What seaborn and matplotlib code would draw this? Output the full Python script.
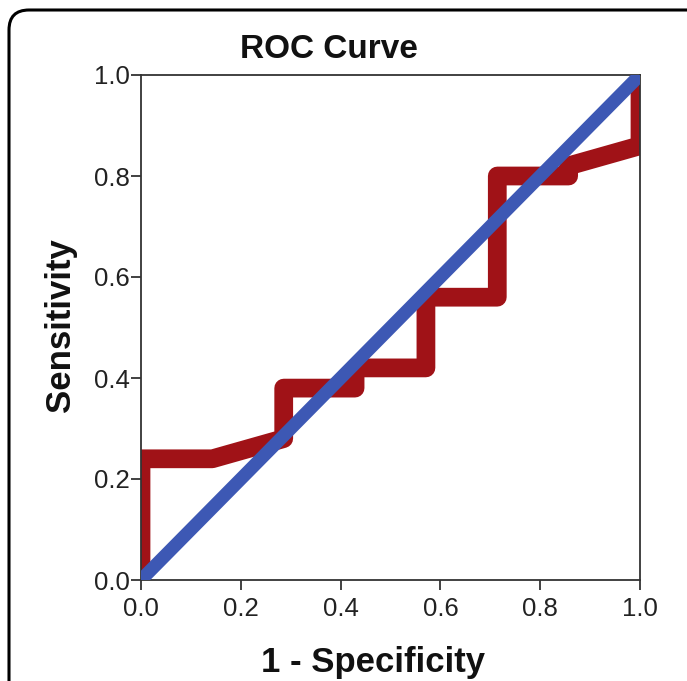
import matplotlib
matplotlib.use('Agg')
import matplotlib.pyplot as plt
import seaborn as sns
from matplotlib.patches import FancyBboxPatch

# ROC curve points (1 - specificity, sensitivity)
fpr = [0.0, 0.0, 0.143, 0.286, 0.286, 0.429, 0.429, 0.571, 0.571, 0.714, 0.714, 0.857, 0.857, 1.0, 1.0]
tpr = [0.0, 0.24, 0.24, 0.28, 0.38, 0.38, 0.42, 0.42, 0.56, 0.56, 0.80, 0.80, 0.82, 0.86, 1.0]

# reference diagonal
ref_x = [0.0, 1.0]
ref_y = [0.0, 1.0]

ticks = [0.0, 0.2, 0.4, 0.6, 0.8, 1.0]
tick_labels = ['0.0', '0.2', '0.4', '0.6', '0.8', '1.0']

sns.set_style('white')
plt.rcParams['font.family'] = ['Liberation Sans', 'DejaVu Sans']

fig = plt.figure(figsize=(6.87, 6.81), dpi=100)
ax = fig.add_axes([141 / 687, 1 - 580 / 681, 499 / 687, 505 / 681])

sns.lineplot(x=fpr, y=tpr, sort=False, estimator=None, ax=ax,
             color='#a01217', linewidth=13.5, solid_joinstyle='round', zorder=2)
sns.lineplot(x=ref_x, y=ref_y, sort=False, estimator=None, ax=ax,
             color='#3d58b4', linewidth=9.5, zorder=3)

ax.set_xlim(0, 1)
ax.set_ylim(0, 1)
ax.set_xticks(ticks)
ax.set_yticks(ticks)
ax.set_xticklabels(tick_labels, fontsize=18.5, color='#222222')
ax.set_yticklabels(tick_labels, fontsize=18.5, color='#222222')
ax.tick_params(axis='x', direction='out', length=7, width=1.3, color='#333333', pad=5, bottom=True)
ax.tick_params(axis='y', direction='out', length=7, width=1.3, color='#333333', pad=1, left=True)
for s in ax.spines.values():
    s.set_color('#333333')
    s.set_linewidth(1.3)

ax.set_xlabel('')
ax.set_ylabel('')
fig.text(329 / 687, 1 - 58 / 681, 'ROC Curve', fontsize=24, fontweight='bold',
         ha='center', va='baseline', color='#111111')
fig.text(373 / 687, 1 - 672 / 681, '1 - Specificity', fontsize=25, fontweight='bold',
         ha='center', va='baseline', color='#111111')
fig.text(60 / 687, 1 - 325 / 681, 'Sensitivity', fontsize=25, fontweight='bold', rotation=90,
         ha='center', va='center', color='#111111')

# rounded outer frame, cut off at the right and bottom edges
frame = FancyBboxPatch((9, -60), 720, 681 - 10 + 60, boxstyle='round,pad=0,rounding_size=20',
                       transform=None, fill=False, edgecolor='black', linewidth=2.2)
fig.patches.append(frame)

fig.savefig('out.png', dpi=100)
